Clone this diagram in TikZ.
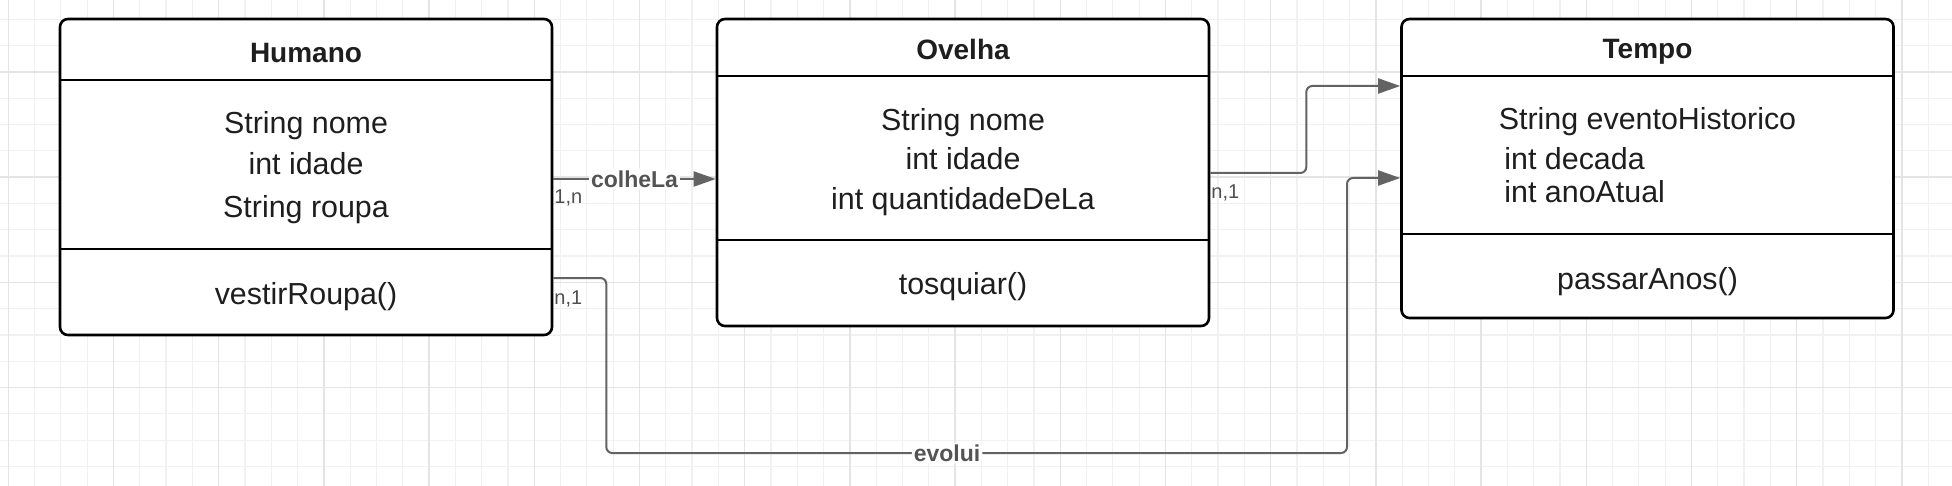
\documentclass[tikz,border=0pt]{standalone}
\usepackage{fontspec}
\setmainfont{Liberation Sans}
\usetikzlibrary{arrows.meta}

\definecolor{gridminor}{HTML}{F1F1F1}
\definecolor{gridmajor}{HTML}{E4E4E4}
\definecolor{linkgray}{HTML}{636363}
\definecolor{inkblack}{HTML}{1E1E1E}

\begin{document}
\begin{tikzpicture}[x=0.5pt, y=-0.5pt]
\tikzstyle{classbox}=[draw=black, line width=1.3pt, rounded corners=4pt, fill=white, inner sep=0pt, minimum width=246pt]
\tikzstyle{classname}=[font=\fontsize{14}{16}\selectfont\bfseries, text=inkblack, anchor=base, inner sep=0pt]
\tikzstyle{member}=[font=\fontsize{15.2}{18}\selectfont, text=inkblack, anchor=base, inner sep=0pt]
\tikzstyle{link}=[draw=linkgray, line width=1pt, rounded corners=3pt, -{Triangle[length=11pt,width=7.5pt]}]
\tikzstyle{linklabel}=[font=\fontsize{11.5}{13}\selectfont\bfseries, text=linkgray!85!black, fill=white, inner sep=1pt]
\tikzstyle{mult}=[font=\fontsize{10}{12}\selectfont, text=linkgray!80!black, anchor=west, inner sep=0pt]

% background grid
\fill[white] (0,0) rectangle (1952,486);
\useasboundingbox (0,0) rectangle (1952,486);
\foreach \i in {0,...,73}
 \draw[gridminor, line width=0.6pt] ({8.2+26.3*\i},0) -- ++(0,486);
\foreach \j in {0,...,17}
 \draw[gridminor, line width=0.6pt] (0,{19.3+26.3*\j}) -- ++(1952,0);
\foreach \i in {0,...,18}
 \draw[gridmajor, line width=0.7pt] ({8.2+105.2*\i},0) -- ++(0,486);
\foreach \j in {0,...,3}
 \draw[gridmajor, line width=0.7pt] (0,{71.9+105.2*\j}) -- ++(1952,0);

% classes
\path (306,177) node[classbox, minimum height=158pt] (humano) {};
\path (963,172.5) node[classbox, minimum height=153.5pt] (ovelha) {};
\path (1647.5,168.5) node[classbox, minimum height=149.5pt] (tempo) {};

\draw[line width=1.3pt] (humano.west |- 0,80) -- (humano.east |- 0,80)
 (humano.west |- 0,249) -- (humano.east |- 0,249);
\draw[line width=1.3pt] (ovelha.west |- 0,76) -- (ovelha.east |- 0,76)
 (ovelha.west |- 0,240) -- (ovelha.east |- 0,240);
\draw[line width=1.3pt] (tempo.west |- 0,76) -- (tempo.east |- 0,76)
 (tempo.west |- 0,234) -- (tempo.east |- 0,234);

\node[classname] (humanoName) at (306,63) {Humano};
\node[classname] (ovelhaName) at (963,60) {Ovelha};
\node[classname] (tempoName) at (1647.5,59) {Tempo};

\foreach \txt/\yy [count=\k] in {String nome/134, int idade/175, String roupa/218}
 \node[member] (humanoAttr\k) at (306,\yy) {\txt};
\foreach \txt/\yy [count=\k] in {String nome/131, int idade/170, int quantidadeDeLa/210}
 \node[member] (ovelhaAttr\k) at (963,\yy) {\txt};
\node[member] (tempoAttr1) at (1647.5,130) {String eventoHistorico};
\node[member, anchor=base west] (tempoAttr2) at (1504,170) {int decada};
\node[member, anchor=base west] (tempoAttr3) at (1504,203) {int anoAtual};

\node[member] (humanoOp) at (306,304) {vestirRoupa()};
\node[member] (ovelhaOp) at (963,294) {tosquiar()};
\node[member] (tempoOp) at (1647.5,289) {passarAnos()};

% associations
\draw[link] (humano.east |- 0,179) -- node[linklabel] (colheLa) {colheLa} (ovelha.west |- 0,179);
\draw[link] (ovelha.east |- 0,173) -- ++(96,0) |- (tempo.west |- 0,86);
\draw[link] (humano.east |- 0,278) -- ++(53,0) |- node[linklabel, pos=0.73] (evolui) {evolui} (1347,453)
 |- (tempo.west |- 0,178);

\node[mult] (multColhe) at (554,198) {1,n};
\node[mult] (multEvolui) at (554,299) {n,1};
\node[mult] (multOvelha) at (1211,193) {n,1};
\end{tikzpicture}
\end{document}
